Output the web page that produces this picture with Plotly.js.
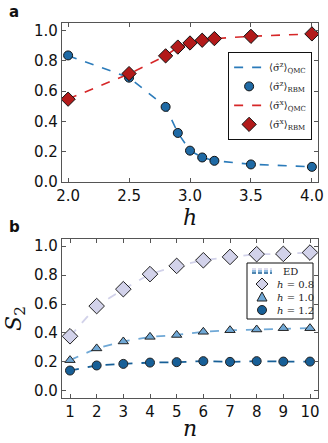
<!DOCTYPE html>
<html>
<head>
<meta charset="utf-8">
<script src="https://cdn.plot.ly/plotly-3.0.1.min.js"></script>
<style>
  body { margin: 0; background: #fff; }
  #chart { width: 328px; height: 443px; }
</style>
</head>
<body>
<div id="chart"></div>
<script>
// panel a : magnetisation vs field
var hVals = [2.0, 2.5, 2.8, 2.9, 3.0, 3.1, 3.2, 3.5, 4.0];
var szQMC = [0.834, 0.690, 0.497, 0.325, 0.207, 0.163, 0.141, 0.117, 0.100];
var szRBM = [0.836, 0.689, 0.496, 0.324, 0.207, 0.162, 0.140, 0.116, 0.100];
var sxQMC = [0.548, 0.714, 0.834, 0.890, 0.918, 0.936, 0.947, 0.962, 0.978];
var sxRBM = [0.547, 0.716, 0.833, 0.891, 0.918, 0.936, 0.947, 0.962, 0.978];

// panel b : Renyi entropy vs n
var nVals = [1, 2, 3, 4, 5, 6, 7, 8, 9, 10];
var s2_h08 = [0.377, 0.586, 0.703, 0.807, 0.864, 0.903, 0.926, 0.945, 0.947, 0.956];
var s2_h10 = [0.212, 0.293, 0.341, 0.373, 0.386, 0.408, 0.419, 0.424, 0.433, 0.433];
var s2_h12 = [0.140, 0.175, 0.186, 0.195, 0.198, 0.205, 0.200, 0.205, 0.202, 0.202];
var legendB = ['ED', '<i>h</i> = 0.8', '<i>h</i> = 1.0', '<i>h</i> = 1.2'];

var blue = '#1f6aa5', red = '#d62728';
var c08 = '#d2d2ea', c10 = '#6fa8d6', c12 = '#175f97';
var serif = 'DejaVu Serif, serif';

var traces = [
  {x: hVals, y: szQMC, mode: 'lines', name: '⟨σ̂<sup>z</sup>⟩<sub>QMC</sub>',
   line: {color: '#2b7bba', dash: 'dash', width: 1.6}},
  {x: hVals, y: szRBM, mode: 'markers', name: '⟨σ̂<sup>z</sup>⟩<sub>RBM</sub>',
   marker: {symbol: 'circle', size: 9, color: blue, line: {color: '#111', width: 1}}},
  {x: hVals, y: sxQMC, mode: 'lines', name: '⟨σ̂<sup>x</sup>⟩<sub>QMC</sub>',
   line: {color: red, dash: 'dash', width: 1.6}},
  {x: hVals, y: sxRBM, mode: 'markers', name: '⟨σ̂<sup>x</sup>⟩<sub>RBM</sub>',
   marker: {symbol: 'diamond', size: 11, color: '#b21a1a', line: {color: '#111', width: 1}}},

  // ED lines
  {x: nVals, y: s2_h08, mode: 'lines', showlegend: false, xaxis: 'x2', yaxis: 'y2',
   line: {color: c08, dash: 'dash', width: 1.8}},
  {x: nVals, y: s2_h10, mode: 'lines', showlegend: false, xaxis: 'x2', yaxis: 'y2',
   line: {color: c10, dash: 'dash', width: 1.8}},
  {x: nVals, y: s2_h12, mode: 'lines', showlegend: false, xaxis: 'x2', yaxis: 'y2',
   line: {color: c12, dash: 'dash', width: 1.8}},
  // RBM markers
  {x: nVals, y: s2_h08, mode: 'markers', showlegend: false, xaxis: 'x2', yaxis: 'y2',
   marker: {symbol: 'diamond', size: 12, color: c08, line: {color: '#222', width: 1}}},
  {x: nVals, y: s2_h10, mode: 'markers', showlegend: false, xaxis: 'x2', yaxis: 'y2',
   marker: {symbol: 'triangle-up', size: 9, color: c10, line: {color: '#222', width: 1}}},
  {x: nVals, y: s2_h12, mode: 'markers', showlegend: false, xaxis: 'x2', yaxis: 'y2',
   marker: {symbol: 'circle', size: 9, color: c12, line: {color: '#222', width: 1}}}
];

// pixel -> paper helpers (plot area is 62..318 x 23..398)
function px(x) { return (x - 62) / 256; }
function py(y) { return (398 - y) / 375; }

// compact legend for panel b (plotly's own legend rows are too tall here)
var rowY = [271, 284, 297, 310], symX = 262;
var shapes = [
  {type: 'rect', xref: 'paper', yref: 'paper', x0: px(247), x1: px(313), y0: py(319), y1: py(263),
   fillcolor: '#fff', line: {color: '#111', width: 1}, layer: 'above'}
];
[c08, c10, c12].forEach(function (c, i) {
  shapes.push({type: 'line', xref: 'paper', yref: 'paper', x0: px(252), x1: px(272),
    y0: py(rowY[0] - 2 + i * 2), y1: py(rowY[0] - 2 + i * 2),
    line: {color: c, width: 1.6, dash: '4px,2px'}, layer: 'above'});
});
function pathOf(pts) {
  return 'M' + pts.map(function (p) { return px(p[0]) + ',' + py(p[1]); }).join('L') + 'Z';
}
shapes.push({type: 'path', xref: 'paper', yref: 'paper', layer: 'above',
  path: pathOf([[symX - 6, rowY[1]], [symX, rowY[1] - 6], [symX + 6, rowY[1]], [symX, rowY[1] + 6]]),
  fillcolor: c08, line: {color: '#222', width: 1}});
shapes.push({type: 'path', xref: 'paper', yref: 'paper', layer: 'above',
  path: pathOf([[symX, rowY[2] - 5], [symX + 5, rowY[2] + 4], [symX - 5, rowY[2] + 4]]),
  fillcolor: c10, line: {color: '#222', width: 1}});
shapes.push({type: 'circle', xref: 'paper', yref: 'paper', layer: 'above',
  x0: px(symX - 4.5), x1: px(symX + 4.5), y0: py(rowY[3] + 4.5), y1: py(rowY[3] - 4.5),
  fillcolor: c12, line: {color: '#222', width: 1}});

var annotations = [
  {text: '<b>a</b>', xref: 'paper', yref: 'paper', x: -0.215, y: 1.03, xanchor: 'left', yanchor: 'middle',
   showarrow: false, font: {family: 'DejaVu Sans, sans-serif', size: 15, color: '#111'}},
  {text: '<b>b</b>', xref: 'paper', yref: 'paper', x: -0.215, y: 0.456, xanchor: 'left', yanchor: 'middle',
   showarrow: false, font: {family: 'DejaVu Sans, sans-serif', size: 15, color: '#111'}}
];
legendB.forEach(function (t, i) {
  annotations.push({text: t, xref: 'paper', yref: 'paper', x: px(i === 0 ? 281 : 275), y: py(rowY[i]),
    xanchor: 'left', yanchor: 'middle', showarrow: false,
    font: {family: serif, size: 10, color: '#222'}});
});

var axisStyle = {
  showline: true, linecolor: '#555', linewidth: 1.2, mirror: 'allticks',
  ticks: 'inside', ticklen: 4, tickcolor: '#555', showgrid: false, zeroline: false,
  tickfont: {family: 'DejaVu Sans, sans-serif', size: 15, color: '#111'}
};

var layout = {
  width: 328, height: 443,
  margin: {l: 62, r: 10, t: 23, b: 45},
  paper_bgcolor: '#fff', plot_bgcolor: '#fff',
  xaxis: Object.assign({}, axisStyle, {anchor: 'y', range: [1.95, 4.05], tickvals: [2, 2.5, 3, 3.5, 4],
    ticktext: ['2.0', '2.5', '3.0', '3.5', '4.0'],
    title: {text: '<i>h</i>', font: {family: serif, size: 22, color: '#111'}, standoff: 0}}),
  yaxis: Object.assign({}, axisStyle, {anchor: 'x', domain: [0.576, 1], range: [0, 1.05], dtick: 0.2, tickformat: '.1f'}),
  xaxis2: Object.assign({}, axisStyle, {anchor: 'y2', range: [0.7, 10.3], dtick: 1,
    title: {text: '<i>n</i>', font: {family: serif, size: 22, color: '#111'}, standoff: 0}}),
  yaxis2: Object.assign({}, axisStyle, {anchor: 'x2', domain: [0, 0.424], range: [-0.05, 1.05], dtick: 0.2, tickformat: '.1f',
    title: {text: '<i>S</i><sub>2</sub>', font: {family: serif, size: 22, color: '#111'}, standoff: 6}}),
  legend: {x: 0.977, y: 0.923, xanchor: 'right', yanchor: 'top', bgcolor: '#fff',
    bordercolor: '#111', borderwidth: 1, font: {family: serif, size: 10, color: '#222'},
    itemwidth: 30, tracegroupgap: 0},
  shapes: shapes,
  annotations: annotations
};

Plotly.newPlot('chart', traces, layout, {displayModeBar: false, staticPlot: true});
</script>
</body>
</html>
